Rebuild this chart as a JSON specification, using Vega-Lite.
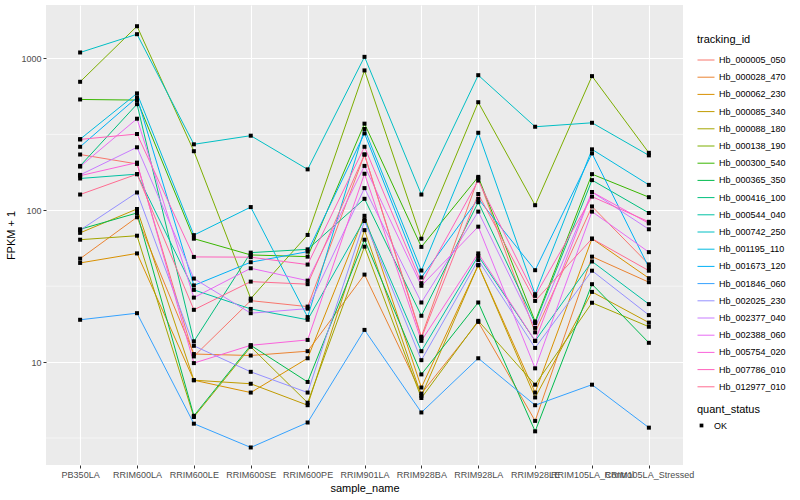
{
  "$schema": "https://vega.github.io/schema/vega-lite/v6.json",
  "width": 637,
  "height": 460,
  "autosize": {"type": "none"},
  "padding": {"left": 46, "top": 5, "right": 117, "bottom": 35},
  "config": {
    "view": {"fill": "#EBEBEB", "stroke": null},
    "font": "Liberation Sans",
    "axis": {"gridColor": "#FFFFFF", "gridWidth": 1.1, "domain": false, "tickColor": "#333333", "tickSize": 3, "labelColor": "#4D4D4D", "labelFontSize": 9, "titleFontSize": 11, "titleFontWeight": "normal", "titleColor": "#000000"},
    "legend": {"titleFontSize": 11, "titleFontWeight": "normal", "labelFontSize": 9, "labelColor": "#000000", "titleColor": "#000000"}
  },
  "datasets": {
    "minor": [{"fpkm_plus_1": 3.162}, {"fpkm_plus_1": 31.62}, {"fpkm_plus_1": 316.2}],
    "genes": [
      {"tracking_id":"Hb_000005_050","sample_name":"PB350LA","fpkm_plus_1":233,"quant_status":"OK"},
      {"tracking_id":"Hb_000005_050","sample_name":"RRIM600LA","fpkm_plus_1":202,"quant_status":"OK"},
      {"tracking_id":"Hb_000005_050","sample_name":"RRIM600LE","fpkm_plus_1":10.9,"quant_status":"OK"},
      {"tracking_id":"Hb_000005_050","sample_name":"RRIM600SE","fpkm_plus_1":25.4,"quant_status":"OK"},
      {"tracking_id":"Hb_000005_050","sample_name":"RRIM600PE","fpkm_plus_1":23.2,"quant_status":"OK"},
      {"tracking_id":"Hb_000005_050","sample_name":"RRIM901LA","fpkm_plus_1":233,"quant_status":"OK"},
      {"tracking_id":"Hb_000005_050","sample_name":"RRIM928BA","fpkm_plus_1":14.7,"quant_status":"OK"},
      {"tracking_id":"Hb_000005_050","sample_name":"RRIM928LA","fpkm_plus_1":163,"quant_status":"OK"},
      {"tracking_id":"Hb_000005_050","sample_name":"RRIM928LE","fpkm_plus_1":15.7,"quant_status":"OK"},
      {"tracking_id":"Hb_000005_050","sample_name":"RRIM105LA_Control","fpkm_plus_1":106,"quant_status":"OK"},
      {"tracking_id":"Hb_000005_050","sample_name":"RRIM105LA_Stressed","fpkm_plus_1":44,"quant_status":"OK"},
      {"tracking_id":"Hb_000028_470","sample_name":"PB350LA","fpkm_plus_1":48,"quant_status":"OK"},
      {"tracking_id":"Hb_000028_470","sample_name":"RRIM600LA","fpkm_plus_1":90,"quant_status":"OK"},
      {"tracking_id":"Hb_000028_470","sample_name":"RRIM600LE","fpkm_plus_1":11.3,"quant_status":"OK"},
      {"tracking_id":"Hb_000028_470","sample_name":"RRIM600SE","fpkm_plus_1":11.05,"quant_status":"OK"},
      {"tracking_id":"Hb_000028_470","sample_name":"RRIM600PE","fpkm_plus_1":11.8,"quant_status":"OK"},
      {"tracking_id":"Hb_000028_470","sample_name":"RRIM901LA","fpkm_plus_1":37.7,"quant_status":"OK"},
      {"tracking_id":"Hb_000028_470","sample_name":"RRIM928BA","fpkm_plus_1":6.2,"quant_status":"OK"},
      {"tracking_id":"Hb_000028_470","sample_name":"RRIM928LA","fpkm_plus_1":18.4,"quant_status":"OK"},
      {"tracking_id":"Hb_000028_470","sample_name":"RRIM928LE","fpkm_plus_1":4.1,"quant_status":"OK"},
      {"tracking_id":"Hb_000028_470","sample_name":"RRIM105LA_Control","fpkm_plus_1":49.5,"quant_status":"OK"},
      {"tracking_id":"Hb_000028_470","sample_name":"RRIM105LA_Stressed","fpkm_plus_1":33.6,"quant_status":"OK"},
      {"tracking_id":"Hb_000062_230","sample_name":"PB350LA","fpkm_plus_1":45,"quant_status":"OK"},
      {"tracking_id":"Hb_000062_230","sample_name":"RRIM600LA","fpkm_plus_1":52,"quant_status":"OK"},
      {"tracking_id":"Hb_000062_230","sample_name":"RRIM600LE","fpkm_plus_1":7.6,"quant_status":"OK"},
      {"tracking_id":"Hb_000062_230","sample_name":"RRIM600SE","fpkm_plus_1":6.3,"quant_status":"OK"},
      {"tracking_id":"Hb_000062_230","sample_name":"RRIM600PE","fpkm_plus_1":10.6,"quant_status":"OK"},
      {"tracking_id":"Hb_000062_230","sample_name":"RRIM901LA","fpkm_plus_1":92,"quant_status":"OK"},
      {"tracking_id":"Hb_000062_230","sample_name":"RRIM928BA","fpkm_plus_1":6.8,"quant_status":"OK"},
      {"tracking_id":"Hb_000062_230","sample_name":"RRIM928LA","fpkm_plus_1":43.5,"quant_status":"OK"},
      {"tracking_id":"Hb_000062_230","sample_name":"RRIM928LE","fpkm_plus_1":6.3,"quant_status":"OK"},
      {"tracking_id":"Hb_000062_230","sample_name":"RRIM105LA_Control","fpkm_plus_1":65,"quant_status":"OK"},
      {"tracking_id":"Hb_000062_230","sample_name":"RRIM105LA_Stressed","fpkm_plus_1":35.7,"quant_status":"OK"},
      {"tracking_id":"Hb_000085_340","sample_name":"PB350LA","fpkm_plus_1":71,"quant_status":"OK"},
      {"tracking_id":"Hb_000085_340","sample_name":"RRIM600LA","fpkm_plus_1":102,"quant_status":"OK"},
      {"tracking_id":"Hb_000085_340","sample_name":"RRIM600LE","fpkm_plus_1":7.6,"quant_status":"OK"},
      {"tracking_id":"Hb_000085_340","sample_name":"RRIM600SE","fpkm_plus_1":7.2,"quant_status":"OK"},
      {"tracking_id":"Hb_000085_340","sample_name":"RRIM600PE","fpkm_plus_1":5.2,"quant_status":"OK"},
      {"tracking_id":"Hb_000085_340","sample_name":"RRIM901LA","fpkm_plus_1":74,"quant_status":"OK"},
      {"tracking_id":"Hb_000085_340","sample_name":"RRIM928BA","fpkm_plus_1":6.0,"quant_status":"OK"},
      {"tracking_id":"Hb_000085_340","sample_name":"RRIM928LA","fpkm_plus_1":43.5,"quant_status":"OK"},
      {"tracking_id":"Hb_000085_340","sample_name":"RRIM928LE","fpkm_plus_1":5.85,"quant_status":"OK"},
      {"tracking_id":"Hb_000085_340","sample_name":"RRIM105LA_Control","fpkm_plus_1":29,"quant_status":"OK"},
      {"tracking_id":"Hb_000085_340","sample_name":"RRIM105LA_Stressed","fpkm_plus_1":18.2,"quant_status":"OK"},
      {"tracking_id":"Hb_000088_180","sample_name":"PB350LA","fpkm_plus_1":64,"quant_status":"OK"},
      {"tracking_id":"Hb_000088_180","sample_name":"RRIM600LA","fpkm_plus_1":68,"quant_status":"OK"},
      {"tracking_id":"Hb_000088_180","sample_name":"RRIM600LE","fpkm_plus_1":4.35,"quant_status":"OK"},
      {"tracking_id":"Hb_000088_180","sample_name":"RRIM600SE","fpkm_plus_1":12.6,"quant_status":"OK"},
      {"tracking_id":"Hb_000088_180","sample_name":"RRIM600PE","fpkm_plus_1":5.4,"quant_status":"OK"},
      {"tracking_id":"Hb_000088_180","sample_name":"RRIM901LA","fpkm_plus_1":57.6,"quant_status":"OK"},
      {"tracking_id":"Hb_000088_180","sample_name":"RRIM928BA","fpkm_plus_1":5.8,"quant_status":"OK"},
      {"tracking_id":"Hb_000088_180","sample_name":"RRIM928LA","fpkm_plus_1":18.7,"quant_status":"OK"},
      {"tracking_id":"Hb_000088_180","sample_name":"RRIM928LE","fpkm_plus_1":7.1,"quant_status":"OK"},
      {"tracking_id":"Hb_000088_180","sample_name":"RRIM105LA_Control","fpkm_plus_1":24.6,"quant_status":"OK"},
      {"tracking_id":"Hb_000088_180","sample_name":"RRIM105LA_Stressed","fpkm_plus_1":17.1,"quant_status":"OK"},
      {"tracking_id":"Hb_000138_190","sample_name":"PB350LA","fpkm_plus_1":702,"quant_status":"OK"},
      {"tracking_id":"Hb_000138_190","sample_name":"RRIM600LA","fpkm_plus_1":1631,"quant_status":"OK"},
      {"tracking_id":"Hb_000138_190","sample_name":"RRIM600LE","fpkm_plus_1":245,"quant_status":"OK"},
      {"tracking_id":"Hb_000138_190","sample_name":"RRIM600SE","fpkm_plus_1":26.2,"quant_status":"OK"},
      {"tracking_id":"Hb_000138_190","sample_name":"RRIM600PE","fpkm_plus_1":68.8,"quant_status":"OK"},
      {"tracking_id":"Hb_000138_190","sample_name":"RRIM901LA","fpkm_plus_1":834,"quant_status":"OK"},
      {"tracking_id":"Hb_000138_190","sample_name":"RRIM928BA","fpkm_plus_1":65,"quant_status":"OK"},
      {"tracking_id":"Hb_000138_190","sample_name":"RRIM928LA","fpkm_plus_1":515,"quant_status":"OK"},
      {"tracking_id":"Hb_000138_190","sample_name":"RRIM928LE","fpkm_plus_1":108,"quant_status":"OK"},
      {"tracking_id":"Hb_000138_190","sample_name":"RRIM105LA_Control","fpkm_plus_1":765,"quant_status":"OK"},
      {"tracking_id":"Hb_000138_190","sample_name":"RRIM105LA_Stressed","fpkm_plus_1":239,"quant_status":"OK"},
      {"tracking_id":"Hb_000300_540","sample_name":"PB350LA","fpkm_plus_1":537,"quant_status":"OK"},
      {"tracking_id":"Hb_000300_540","sample_name":"RRIM600LA","fpkm_plus_1":532,"quant_status":"OK"},
      {"tracking_id":"Hb_000300_540","sample_name":"RRIM600LE","fpkm_plus_1":65,"quant_status":"OK"},
      {"tracking_id":"Hb_000300_540","sample_name":"RRIM600SE","fpkm_plus_1":50.8,"quant_status":"OK"},
      {"tracking_id":"Hb_000300_540","sample_name":"RRIM600PE","fpkm_plus_1":49.5,"quant_status":"OK"},
      {"tracking_id":"Hb_000300_540","sample_name":"RRIM901LA","fpkm_plus_1":372,"quant_status":"OK"},
      {"tracking_id":"Hb_000300_540","sample_name":"RRIM928BA","fpkm_plus_1":57.4,"quant_status":"OK"},
      {"tracking_id":"Hb_000300_540","sample_name":"RRIM928LA","fpkm_plus_1":166,"quant_status":"OK"},
      {"tracking_id":"Hb_000300_540","sample_name":"RRIM928LE","fpkm_plus_1":18.5,"quant_status":"OK"},
      {"tracking_id":"Hb_000300_540","sample_name":"RRIM105LA_Control","fpkm_plus_1":173,"quant_status":"OK"},
      {"tracking_id":"Hb_000300_540","sample_name":"RRIM105LA_Stressed","fpkm_plus_1":122,"quant_status":"OK"},
      {"tracking_id":"Hb_000365_350","sample_name":"PB350LA","fpkm_plus_1":75,"quant_status":"OK"},
      {"tracking_id":"Hb_000365_350","sample_name":"RRIM600LA","fpkm_plus_1":96,"quant_status":"OK"},
      {"tracking_id":"Hb_000365_350","sample_name":"RRIM600LE","fpkm_plus_1":4.43,"quant_status":"OK"},
      {"tracking_id":"Hb_000365_350","sample_name":"RRIM600SE","fpkm_plus_1":12.9,"quant_status":"OK"},
      {"tracking_id":"Hb_000365_350","sample_name":"RRIM600PE","fpkm_plus_1":7.4,"quant_status":"OK"},
      {"tracking_id":"Hb_000365_350","sample_name":"RRIM901LA","fpkm_plus_1":64,"quant_status":"OK"},
      {"tracking_id":"Hb_000365_350","sample_name":"RRIM928BA","fpkm_plus_1":8.3,"quant_status":"OK"},
      {"tracking_id":"Hb_000365_350","sample_name":"RRIM928LA","fpkm_plus_1":24.7,"quant_status":"OK"},
      {"tracking_id":"Hb_000365_350","sample_name":"RRIM928LE","fpkm_plus_1":3.5,"quant_status":"OK"},
      {"tracking_id":"Hb_000365_350","sample_name":"RRIM105LA_Control","fpkm_plus_1":32.6,"quant_status":"OK"},
      {"tracking_id":"Hb_000365_350","sample_name":"RRIM105LA_Stressed","fpkm_plus_1":13.4,"quant_status":"OK"},
      {"tracking_id":"Hb_000416_100","sample_name":"PB350LA","fpkm_plus_1":196,"quant_status":"OK"},
      {"tracking_id":"Hb_000416_100","sample_name":"RRIM600LA","fpkm_plus_1":500,"quant_status":"OK"},
      {"tracking_id":"Hb_000416_100","sample_name":"RRIM600LE","fpkm_plus_1":13.7,"quant_status":"OK"},
      {"tracking_id":"Hb_000416_100","sample_name":"RRIM600SE","fpkm_plus_1":52.6,"quant_status":"OK"},
      {"tracking_id":"Hb_000416_100","sample_name":"RRIM600PE","fpkm_plus_1":55.3,"quant_status":"OK"},
      {"tracking_id":"Hb_000416_100","sample_name":"RRIM901LA","fpkm_plus_1":119,"quant_status":"OK"},
      {"tracking_id":"Hb_000416_100","sample_name":"RRIM928BA","fpkm_plus_1":20.2,"quant_status":"OK"},
      {"tracking_id":"Hb_000416_100","sample_name":"RRIM928LA","fpkm_plus_1":113,"quant_status":"OK"},
      {"tracking_id":"Hb_000416_100","sample_name":"RRIM928LE","fpkm_plus_1":18.1,"quant_status":"OK"},
      {"tracking_id":"Hb_000416_100","sample_name":"RRIM105LA_Control","fpkm_plus_1":158,"quant_status":"OK"},
      {"tracking_id":"Hb_000416_100","sample_name":"RRIM105LA_Stressed","fpkm_plus_1":96,"quant_status":"OK"},
      {"tracking_id":"Hb_000544_040","sample_name":"PB350LA","fpkm_plus_1":162,"quant_status":"OK"},
      {"tracking_id":"Hb_000544_040","sample_name":"RRIM600LA","fpkm_plus_1":173,"quant_status":"OK"},
      {"tracking_id":"Hb_000544_040","sample_name":"RRIM600LE","fpkm_plus_1":29.9,"quant_status":"OK"},
      {"tracking_id":"Hb_000544_040","sample_name":"RRIM600SE","fpkm_plus_1":22.4,"quant_status":"OK"},
      {"tracking_id":"Hb_000544_040","sample_name":"RRIM600PE","fpkm_plus_1":19,"quant_status":"OK"},
      {"tracking_id":"Hb_000544_040","sample_name":"RRIM901LA","fpkm_plus_1":87,"quant_status":"OK"},
      {"tracking_id":"Hb_000544_040","sample_name":"RRIM928BA","fpkm_plus_1":11.8,"quant_status":"OK"},
      {"tracking_id":"Hb_000544_040","sample_name":"RRIM928LA","fpkm_plus_1":50,"quant_status":"OK"},
      {"tracking_id":"Hb_000544_040","sample_name":"RRIM928LE","fpkm_plus_1":13.8,"quant_status":"OK"},
      {"tracking_id":"Hb_000544_040","sample_name":"RRIM105LA_Control","fpkm_plus_1":46,"quant_status":"OK"},
      {"tracking_id":"Hb_000544_040","sample_name":"RRIM105LA_Stressed","fpkm_plus_1":24.1,"quant_status":"OK"},
      {"tracking_id":"Hb_000742_250","sample_name":"PB350LA","fpkm_plus_1":1095,"quant_status":"OK"},
      {"tracking_id":"Hb_000742_250","sample_name":"RRIM600LA","fpkm_plus_1":1445,"quant_status":"OK"},
      {"tracking_id":"Hb_000742_250","sample_name":"RRIM600LE","fpkm_plus_1":272,"quant_status":"OK"},
      {"tracking_id":"Hb_000742_250","sample_name":"RRIM600SE","fpkm_plus_1":310,"quant_status":"OK"},
      {"tracking_id":"Hb_000742_250","sample_name":"RRIM600PE","fpkm_plus_1":186,"quant_status":"OK"},
      {"tracking_id":"Hb_000742_250","sample_name":"RRIM901LA","fpkm_plus_1":1025,"quant_status":"OK"},
      {"tracking_id":"Hb_000742_250","sample_name":"RRIM928BA","fpkm_plus_1":127,"quant_status":"OK"},
      {"tracking_id":"Hb_000742_250","sample_name":"RRIM928LA","fpkm_plus_1":776,"quant_status":"OK"},
      {"tracking_id":"Hb_000742_250","sample_name":"RRIM928LE","fpkm_plus_1":355,"quant_status":"OK"},
      {"tracking_id":"Hb_000742_250","sample_name":"RRIM105LA_Control","fpkm_plus_1":377,"quant_status":"OK"},
      {"tracking_id":"Hb_000742_250","sample_name":"RRIM105LA_Stressed","fpkm_plus_1":230,"quant_status":"OK"},
      {"tracking_id":"Hb_001195_110","sample_name":"PB350LA","fpkm_plus_1":294,"quant_status":"OK"},
      {"tracking_id":"Hb_001195_110","sample_name":"RRIM600LA","fpkm_plus_1":589,"quant_status":"OK"},
      {"tracking_id":"Hb_001195_110","sample_name":"RRIM600LE","fpkm_plus_1":68.6,"quant_status":"OK"},
      {"tracking_id":"Hb_001195_110","sample_name":"RRIM600SE","fpkm_plus_1":105,"quant_status":"OK"},
      {"tracking_id":"Hb_001195_110","sample_name":"RRIM600PE","fpkm_plus_1":19.8,"quant_status":"OK"},
      {"tracking_id":"Hb_001195_110","sample_name":"RRIM901LA","fpkm_plus_1":343,"quant_status":"OK"},
      {"tracking_id":"Hb_001195_110","sample_name":"RRIM928BA","fpkm_plus_1":40.1,"quant_status":"OK"},
      {"tracking_id":"Hb_001195_110","sample_name":"RRIM928LA","fpkm_plus_1":324,"quant_status":"OK"},
      {"tracking_id":"Hb_001195_110","sample_name":"RRIM928LE","fpkm_plus_1":28,"quant_status":"OK"},
      {"tracking_id":"Hb_001195_110","sample_name":"RRIM105LA_Control","fpkm_plus_1":252,"quant_status":"OK"},
      {"tracking_id":"Hb_001195_110","sample_name":"RRIM105LA_Stressed","fpkm_plus_1":147,"quant_status":"OK"},
      {"tracking_id":"Hb_001673_120","sample_name":"PB350LA","fpkm_plus_1":262,"quant_status":"OK"},
      {"tracking_id":"Hb_001673_120","sample_name":"RRIM600LA","fpkm_plus_1":554,"quant_status":"OK"},
      {"tracking_id":"Hb_001673_120","sample_name":"RRIM600LE","fpkm_plus_1":32,"quant_status":"OK"},
      {"tracking_id":"Hb_001673_120","sample_name":"RRIM600SE","fpkm_plus_1":45.5,"quant_status":"OK"},
      {"tracking_id":"Hb_001673_120","sample_name":"RRIM600PE","fpkm_plus_1":53.4,"quant_status":"OK"},
      {"tracking_id":"Hb_001673_120","sample_name":"RRIM901LA","fpkm_plus_1":321,"quant_status":"OK"},
      {"tracking_id":"Hb_001673_120","sample_name":"RRIM928BA","fpkm_plus_1":36.1,"quant_status":"OK"},
      {"tracking_id":"Hb_001673_120","sample_name":"RRIM928LA","fpkm_plus_1":119,"quant_status":"OK"},
      {"tracking_id":"Hb_001673_120","sample_name":"RRIM928LE","fpkm_plus_1":40.3,"quant_status":"OK"},
      {"tracking_id":"Hb_001673_120","sample_name":"RRIM105LA_Control","fpkm_plus_1":237,"quant_status":"OK"},
      {"tracking_id":"Hb_001673_120","sample_name":"RRIM105LA_Stressed","fpkm_plus_1":42,"quant_status":"OK"},
      {"tracking_id":"Hb_001846_060","sample_name":"PB350LA","fpkm_plus_1":19,"quant_status":"OK"},
      {"tracking_id":"Hb_001846_060","sample_name":"RRIM600LA","fpkm_plus_1":21,"quant_status":"OK"},
      {"tracking_id":"Hb_001846_060","sample_name":"RRIM600LE","fpkm_plus_1":3.93,"quant_status":"OK"},
      {"tracking_id":"Hb_001846_060","sample_name":"RRIM600SE","fpkm_plus_1":2.74,"quant_status":"OK"},
      {"tracking_id":"Hb_001846_060","sample_name":"RRIM600PE","fpkm_plus_1":4.0,"quant_status":"OK"},
      {"tracking_id":"Hb_001846_060","sample_name":"RRIM901LA","fpkm_plus_1":16.3,"quant_status":"OK"},
      {"tracking_id":"Hb_001846_060","sample_name":"RRIM928BA","fpkm_plus_1":4.66,"quant_status":"OK"},
      {"tracking_id":"Hb_001846_060","sample_name":"RRIM928LA","fpkm_plus_1":10.6,"quant_status":"OK"},
      {"tracking_id":"Hb_001846_060","sample_name":"RRIM928LE","fpkm_plus_1":5.2,"quant_status":"OK"},
      {"tracking_id":"Hb_001846_060","sample_name":"RRIM105LA_Control","fpkm_plus_1":7.1,"quant_status":"OK"},
      {"tracking_id":"Hb_001846_060","sample_name":"RRIM105LA_Stressed","fpkm_plus_1":3.7,"quant_status":"OK"},
      {"tracking_id":"Hb_002025_230","sample_name":"PB350LA","fpkm_plus_1":74,"quant_status":"OK"},
      {"tracking_id":"Hb_002025_230","sample_name":"RRIM600LA","fpkm_plus_1":131,"quant_status":"OK"},
      {"tracking_id":"Hb_002025_230","sample_name":"RRIM600LE","fpkm_plus_1":12.8,"quant_status":"OK"},
      {"tracking_id":"Hb_002025_230","sample_name":"RRIM600SE","fpkm_plus_1":8.63,"quant_status":"OK"},
      {"tracking_id":"Hb_002025_230","sample_name":"RRIM600PE","fpkm_plus_1":6.3,"quant_status":"OK"},
      {"tracking_id":"Hb_002025_230","sample_name":"RRIM901LA","fpkm_plus_1":85,"quant_status":"OK"},
      {"tracking_id":"Hb_002025_230","sample_name":"RRIM928BA","fpkm_plus_1":10.3,"quant_status":"OK"},
      {"tracking_id":"Hb_002025_230","sample_name":"RRIM928LA","fpkm_plus_1":47,"quant_status":"OK"},
      {"tracking_id":"Hb_002025_230","sample_name":"RRIM928LE","fpkm_plus_1":12.4,"quant_status":"OK"},
      {"tracking_id":"Hb_002025_230","sample_name":"RRIM105LA_Control","fpkm_plus_1":40,"quant_status":"OK"},
      {"tracking_id":"Hb_002025_230","sample_name":"RRIM105LA_Stressed","fpkm_plus_1":20.4,"quant_status":"OK"},
      {"tracking_id":"Hb_002377_040","sample_name":"PB350LA","fpkm_plus_1":171,"quant_status":"OK"},
      {"tracking_id":"Hb_002377_040","sample_name":"RRIM600LA","fpkm_plus_1":260,"quant_status":"OK"},
      {"tracking_id":"Hb_002377_040","sample_name":"RRIM600LE","fpkm_plus_1":35.5,"quant_status":"OK"},
      {"tracking_id":"Hb_002377_040","sample_name":"RRIM600SE","fpkm_plus_1":21,"quant_status":"OK"},
      {"tracking_id":"Hb_002377_040","sample_name":"RRIM600PE","fpkm_plus_1":22.5,"quant_status":"OK"},
      {"tracking_id":"Hb_002377_040","sample_name":"RRIM901LA","fpkm_plus_1":140,"quant_status":"OK"},
      {"tracking_id":"Hb_002377_040","sample_name":"RRIM928BA","fpkm_plus_1":24.7,"quant_status":"OK"},
      {"tracking_id":"Hb_002377_040","sample_name":"RRIM928LA","fpkm_plus_1":98,"quant_status":"OK"},
      {"tracking_id":"Hb_002377_040","sample_name":"RRIM928LE","fpkm_plus_1":16.8,"quant_status":"OK"},
      {"tracking_id":"Hb_002377_040","sample_name":"RRIM105LA_Control","fpkm_plus_1":132,"quant_status":"OK"},
      {"tracking_id":"Hb_002377_040","sample_name":"RRIM105LA_Stressed","fpkm_plus_1":75,"quant_status":"OK"},
      {"tracking_id":"Hb_002388_060","sample_name":"PB350LA","fpkm_plus_1":194,"quant_status":"OK"},
      {"tracking_id":"Hb_002388_060","sample_name":"RRIM600LA","fpkm_plus_1":401,"quant_status":"OK"},
      {"tracking_id":"Hb_002388_060","sample_name":"RRIM600LE","fpkm_plus_1":26.6,"quant_status":"OK"},
      {"tracking_id":"Hb_002388_060","sample_name":"RRIM600SE","fpkm_plus_1":41.5,"quant_status":"OK"},
      {"tracking_id":"Hb_002388_060","sample_name":"RRIM600PE","fpkm_plus_1":34.4,"quant_status":"OK"},
      {"tracking_id":"Hb_002388_060","sample_name":"RRIM901LA","fpkm_plus_1":196,"quant_status":"OK"},
      {"tracking_id":"Hb_002388_060","sample_name":"RRIM928BA","fpkm_plus_1":31.8,"quant_status":"OK"},
      {"tracking_id":"Hb_002388_060","sample_name":"RRIM928LA","fpkm_plus_1":78,"quant_status":"OK"},
      {"tracking_id":"Hb_002388_060","sample_name":"RRIM928LE","fpkm_plus_1":9.1,"quant_status":"OK"},
      {"tracking_id":"Hb_002388_060","sample_name":"RRIM105LA_Control","fpkm_plus_1":98,"quant_status":"OK"},
      {"tracking_id":"Hb_002388_060","sample_name":"RRIM105LA_Stressed","fpkm_plus_1":53,"quant_status":"OK"},
      {"tracking_id":"Hb_005754_020","sample_name":"PB350LA","fpkm_plus_1":169,"quant_status":"OK"},
      {"tracking_id":"Hb_005754_020","sample_name":"RRIM600LA","fpkm_plus_1":206,"quant_status":"OK"},
      {"tracking_id":"Hb_005754_020","sample_name":"RRIM600LE","fpkm_plus_1":9.85,"quant_status":"OK"},
      {"tracking_id":"Hb_005754_020","sample_name":"RRIM600SE","fpkm_plus_1":12.9,"quant_status":"OK"},
      {"tracking_id":"Hb_005754_020","sample_name":"RRIM600PE","fpkm_plus_1":14,"quant_status":"OK"},
      {"tracking_id":"Hb_005754_020","sample_name":"RRIM901LA","fpkm_plus_1":174,"quant_status":"OK"},
      {"tracking_id":"Hb_005754_020","sample_name":"RRIM928BA","fpkm_plus_1":13.8,"quant_status":"OK"},
      {"tracking_id":"Hb_005754_020","sample_name":"RRIM928LA","fpkm_plus_1":52,"quant_status":"OK"},
      {"tracking_id":"Hb_005754_020","sample_name":"RRIM928LE","fpkm_plus_1":13.8,"quant_status":"OK"},
      {"tracking_id":"Hb_005754_020","sample_name":"RRIM105LA_Control","fpkm_plus_1":132,"quant_status":"OK"},
      {"tracking_id":"Hb_005754_020","sample_name":"RRIM105LA_Stressed","fpkm_plus_1":82,"quant_status":"OK"},
      {"tracking_id":"Hb_007786_010","sample_name":"PB350LA","fpkm_plus_1":293,"quant_status":"OK"},
      {"tracking_id":"Hb_007786_010","sample_name":"RRIM600LA","fpkm_plus_1":318,"quant_status":"OK"},
      {"tracking_id":"Hb_007786_010","sample_name":"RRIM600LE","fpkm_plus_1":49.3,"quant_status":"OK"},
      {"tracking_id":"Hb_007786_010","sample_name":"RRIM600SE","fpkm_plus_1":49.1,"quant_status":"OK"},
      {"tracking_id":"Hb_007786_010","sample_name":"RRIM600PE","fpkm_plus_1":43.9,"quant_status":"OK"},
      {"tracking_id":"Hb_007786_010","sample_name":"RRIM901LA","fpkm_plus_1":262,"quant_status":"OK"},
      {"tracking_id":"Hb_007786_010","sample_name":"RRIM928BA","fpkm_plus_1":33.1,"quant_status":"OK"},
      {"tracking_id":"Hb_007786_010","sample_name":"RRIM928LA","fpkm_plus_1":157,"quant_status":"OK"},
      {"tracking_id":"Hb_007786_010","sample_name":"RRIM928LE","fpkm_plus_1":27.3,"quant_status":"OK"},
      {"tracking_id":"Hb_007786_010","sample_name":"RRIM105LA_Control","fpkm_plus_1":123,"quant_status":"OK"},
      {"tracking_id":"Hb_007786_010","sample_name":"RRIM105LA_Stressed","fpkm_plus_1":84,"quant_status":"OK"},
      {"tracking_id":"Hb_012977_010","sample_name":"PB350LA","fpkm_plus_1":127,"quant_status":"OK"},
      {"tracking_id":"Hb_012977_010","sample_name":"RRIM600LA","fpkm_plus_1":173,"quant_status":"OK"},
      {"tracking_id":"Hb_012977_010","sample_name":"RRIM600LE","fpkm_plus_1":22.1,"quant_status":"OK"},
      {"tracking_id":"Hb_012977_010","sample_name":"RRIM600SE","fpkm_plus_1":33.9,"quant_status":"OK"},
      {"tracking_id":"Hb_012977_010","sample_name":"RRIM600PE","fpkm_plus_1":32.6,"quant_status":"OK"},
      {"tracking_id":"Hb_012977_010","sample_name":"RRIM901LA","fpkm_plus_1":233,"quant_status":"OK"},
      {"tracking_id":"Hb_012977_010","sample_name":"RRIM928BA","fpkm_plus_1":14.4,"quant_status":"OK"},
      {"tracking_id":"Hb_012977_010","sample_name":"RRIM928LA","fpkm_plus_1":128,"quant_status":"OK"},
      {"tracking_id":"Hb_012977_010","sample_name":"RRIM928LE","fpkm_plus_1":25.3,"quant_status":"OK"},
      {"tracking_id":"Hb_012977_010","sample_name":"RRIM105LA_Control","fpkm_plus_1":65,"quant_status":"OK"},
      {"tracking_id":"Hb_012977_010","sample_name":"RRIM105LA_Stressed","fpkm_plus_1":40,"quant_status":"OK"}
    ]
  },
  "layer": [
    {
      "data": {"name": "minor"},
      "mark": {"type": "rule", "color": "#FFFFFF", "strokeWidth": 0.55},
      "encoding": {
        "y": {"field": "fpkm_plus_1", "type": "quantitative", "title": "FPKM + 1"}
      }
    },
    {
      "data": {"name": "genes"},
      "mark": {"type": "line", "strokeWidth": 1},
      "encoding": {
        "x": {"field": "sample_name", "type": "nominal", "title": "sample_name",
              "sort": ["PB350LA","RRIM600LA","RRIM600LE","RRIM600SE","RRIM600PE","RRIM901LA","RRIM928BA","RRIM928LA","RRIM928LE","RRIM105LA_Control","RRIM105LA_Stressed"],
              "scale": {"type": "point", "padding": 0.6},
              "axis": {"labelAngle": 0, "labelOverlap": false, "labelLimit": 0, "grid": true, "titlePadding": 3, "labelPadding": 2}},
        "y": {"field": "fpkm_plus_1", "type": "quantitative", "title": "FPKM + 1",
              "scale": {"type": "log", "domain": [2.1, 2250], "nice": false, "zero": false},
              "axis": {"values": [10, 100, 1000], "format": "d", "grid": true, "titlePadding": 4, "labelPadding": 2}},
        "color": {"field": "tracking_id", "type": "nominal", "title": "tracking_id",
                  "scale": {"domain": ["Hb_000005_050","Hb_000028_470","Hb_000062_230","Hb_000085_340","Hb_000088_180","Hb_000138_190","Hb_000300_540","Hb_000365_350","Hb_000416_100","Hb_000544_040","Hb_000742_250","Hb_001195_110","Hb_001673_120","Hb_001846_060","Hb_002025_230","Hb_002377_040","Hb_002388_060","Hb_005754_020","Hb_007786_010","Hb_012977_010"],
                            "range": ["#F8766D","#EA8331","#D89000","#C09B00","#A3A500","#7CAE00","#39B600","#00BB4E","#00BF7D","#00C1A3","#00BFC4","#00BAE0","#00B0F6","#35A2FF","#9590FF","#C77CFF","#E76BF3","#FA62DB","#FF62BC","#FF6C91"]},
                  "legend": {"orient": "none", "legendX": 651, "legendY": 29, "symbolType": "stroke", "symbolSize": 289, "symbolStrokeWidth": 1, "rowPadding": 3.2, "labelOffset": 4, "titlePadding": 6}},
        "detail": {"field": "tracking_id"}
      }
    },
    {
      "data": {"name": "genes"},
      "mark": {"type": "point", "filled": true, "size": 16, "opacity": 1},
      "encoding": {
        "x": {"field": "sample_name", "type": "nominal",
              "sort": ["PB350LA","RRIM600LA","RRIM600LE","RRIM600SE","RRIM600PE","RRIM901LA","RRIM928BA","RRIM928LA","RRIM928LE","RRIM105LA_Control","RRIM105LA_Stressed"]},
        "y": {"field": "fpkm_plus_1", "type": "quantitative"},
        "shape": {"field": "quant_status", "type": "nominal", "title": "quant_status",
                  "scale": {"range": ["square"]},
                  "legend": {"orient": "none", "legendX": 651, "legendY": 399, "symbolFillColor": "#000000", "symbolStrokeColor": "#000000", "symbolSize": 14, "labelOffset": 8, "titlePadding": 6}},
        "color": {"value": "#000000"}
      }
    }
  ]
}
